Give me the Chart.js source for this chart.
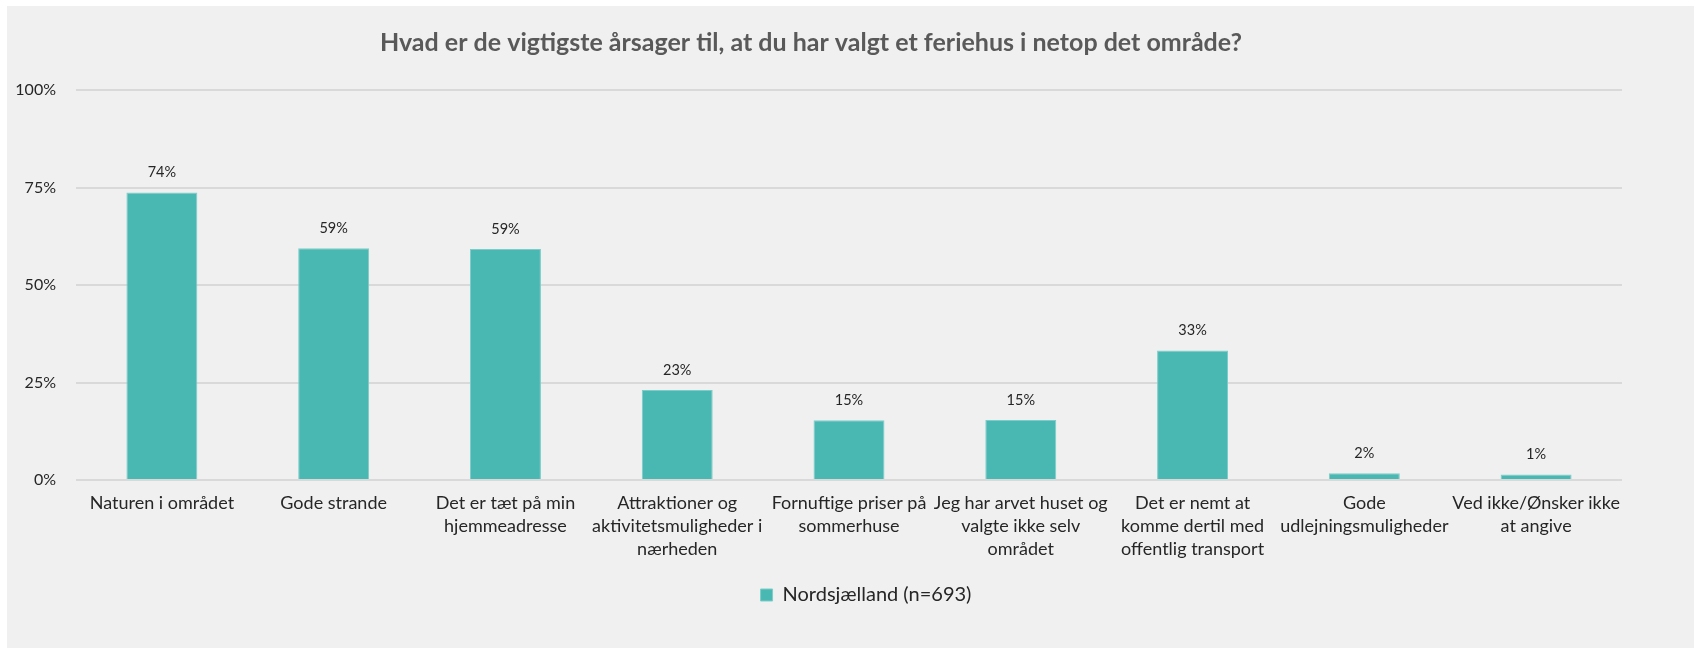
<!DOCTYPE html>
<html lang="da">
<head>
<meta charset="utf-8">
<title>Årsager til valg af område</title>
<script src="https://cdn.jsdelivr.net/npm/chart.js@4/dist/chart.umd.min.js"></script>
<style>
  html, body { margin: 0; padding: 0; background: #ffffff; }
  #wrap { width: 1694px; height: 648px; }
</style>
</head>
<body>
<div id="wrap"><canvas id="chart" width="1694" height="648"></canvas></div>
<script>
/* ---------- data ---------- */
const titel = 'Hvad er de vigtigste årsager til, at du har valgt et feriehus i netop det område?';
const serieNavn = 'Nordsjælland (n=693)';

// kategorier, delt i linjer som i originalen
const kategorier = [
    ['Naturen i området'],
    ['Gode strande'],
    ['Det er tæt på min', 'hjemmeadresse'],
    ['Attraktioner og', 'aktivitetsmuligheder i', 'nærheden'],
    ['Fornuftige priser på', 'sommerhuse'],
    ['Jeg har arvet huset og', 'valgte ikke selv', 'området'],
    ['Det er nemt at', 'komme dertil med', 'offentlig transport'],
    ['Gode', 'udlejningsmuligheder'],
    ['Ved ikke/Ønsker ikke', 'at angive']
];

// andel i procent (aflæst)
const andele = [73.7, 59.4, 59.2, 23.1, 15.3, 15.4, 33.2, 1.7, 1.4];

const yTicks = [0, 25, 50, 75, 100];

/* ---------- farver ---------- */
const farver = {
    bar: '#49b8b3',
    barKant: '#7ccdc9',
    grid: '#d9d9d9',
    titel: '#595959',
    tekst: '#262626',
    panel: '#f0f0f0'
};
const skrift = 'Lato, "Liberation Sans", sans-serif';

/* ---------- plugins ---------- */
// grå baggrund bag hele figuren
const baggrund = {
    id: 'baggrund',
    beforeDraw(chart) {
        const ctx = chart.ctx;
        ctx.save();
        ctx.fillStyle = '#ffffff';
        ctx.fillRect(0, 0, chart.width, chart.height);
        ctx.fillStyle = farver.panel;
        ctx.fillRect(7, 6, chart.width - 7, chart.height - 6);
        ctx.restore();
    }
};

// procenttal over hver søjle
const vaerdiEtiketter = {
    id: 'vaerdiEtiketter',
    afterDatasetsDraw(chart) {
        const ctx = chart.ctx;
        const meta = chart.getDatasetMeta(0);
        ctx.save();
        ctx.font = '14.5px ' + skrift;
        ctx.fillStyle = farver.tekst;
        ctx.textAlign = 'center';
        ctx.textBaseline = 'middle';
        meta.data.forEach((bar, i) => {
            ctx.fillText(Math.round(andele[i]) + '%', bar.x, bar.y - 20);
        });
        ctx.restore();
    }
};

// forklaringen sidder lidt til højre for midten i originalen
const flytForklaring = {
    id: 'flytForklaring',
    afterLayout(chart) {
        chart.legend.left += 17;
        chart.legend.right += 17;
    }
};

/* ---------- graf ---------- */
new Chart(document.getElementById('chart'), {
    type: 'bar',
    data: {
        labels: kategorier,
        datasets: [{
            label: serieNavn,
            data: andele,
            backgroundColor: farver.bar,
            borderColor: farver.barKant,
            borderWidth: 1,
            categoryPercentage: 1,
            barPercentage: 0.413
        }]
    },
    options: {
        responsive: false,
        animation: false,
        layout: { padding: { left: 0, right: 72, top: 0, bottom: 33 } },
        plugins: {
            title: {
                display: true,
                text: titel,
                color: farver.titel,
                font: { family: skrift, size: 25, weight: 'bold' },
                padding: { top: 28, bottom: 32 }
            },
            legend: {
                position: 'bottom',
                fullSize: false,
                labels: {
                    color: farver.tekst,
                    font: { family: skrift, size: 20 },
                    boxWidth: 12,
                    boxHeight: 12,
                    padding: 10
                }
            },
            tooltip: { enabled: false }
        },
        scales: {
            y: {
                min: 0,
                max: 100,
                afterBuildTicks: (scale) => { scale.ticks = yTicks.map(v => ({ value: v })); },
                afterFit: (scale) => { scale.width = 76; },
                ticks: {
                    color: farver.tekst,
                    font: { family: skrift, size: 16 },
                    padding: 20,
                    callback: (v) => v + '%'
                },
                grid: { color: farver.grid, lineWidth: 2, drawTicks: false },
                border: { display: false }
            },
            x: {
                afterFit: (scale) => { scale.height = 95; },
                ticks: {
                    color: farver.tekst,
                    font: { family: skrift, size: 18, lineHeight: 1.26 },
                    padding: 12,
                    maxRotation: 0,
                    autoSkip: false
                },
                grid: { display: false, drawTicks: false },
                border: { display: false }
            }
        }
    },
    plugins: [baggrund, vaerdiEtiketter, flytForklaring]
});
</script>
</body>
</html>
